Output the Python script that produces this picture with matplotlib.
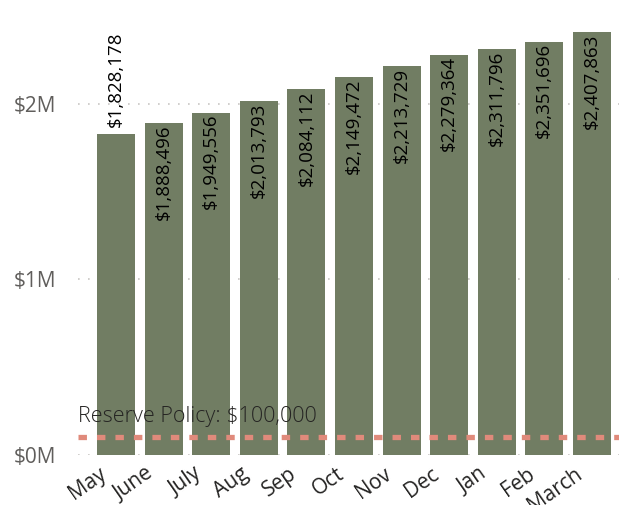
import matplotlib
matplotlib.use("Agg")
import matplotlib.pyplot as plt
from matplotlib.ticker import FuncFormatter

plt.rcParams['font.family'] = ['Open Sans', 'DejaVu Sans']

meses = ['May', 'June', 'July', 'Aug', 'Sep', 'Oct', 'Nov', 'Dec', 'Jan', 'Feb', 'March']
saldo = [1828178, 1888496, 1949556, 2013793, 2084112, 2149472, 2213729,
         2279364, 2311796, 2351696, 2407863]
reserva = 100000
reserva_txt = 'Reserve Policy: $100,000'
yticks = [0, 1000000, 2000000]

fig = plt.figure(figsize=(6.19, 5.05), dpi=100)
ax = fig.add_axes([0.126, 0.099, 0.874, 0.901])

x = list(range(len(meses)))
ax.bar(x, saldo, width=0.8, color='#717D63', zorder=2)

# etiquetas de valor: la primera fuera de la barra, el resto dentro
for i, v in enumerate(saldo):
    txt = '${:,}'.format(v)
    if i == 0:
        ax.annotate(txt, (i, v), xytext=(0, 5), textcoords='offset points',
                    rotation=90, ha='center', va='bottom', fontsize=13.5, color='black')
    else:
        ax.annotate(txt, (i, v), xytext=(0, -1), textcoords='offset points',
                    rotation=90, ha='center', va='top', fontsize=13.5, color='black')

ax.axhline(reserva, color='#E08A7B', lw=3.8, dashes=(1.6, 1.9),
           dash_capstyle='butt', zorder=3)
ax.text(-0.8, reserva + 60000, reserva_txt, fontsize=15.5, color='#252423',
        ha='left', va='bottom', fontweight='light', zorder=4)

ax.set_xlim(-0.8, 10.57)
ax.set_ylim(0, 2590000)
ax.set_yticks(yticks)
ax.yaxis.set_major_formatter(FuncFormatter(lambda v, p: '${:.0f}M'.format(v / 1e6)))
# las etiquetas del eje x quedan algo a la izquierda del centro de cada barra
ax.set_xticks([i - 0.38 for i in x])
ax.set_xticklabels(meses, rotation=35, ha='right', rotation_mode='anchor')

ax.grid(axis='y', color='#C8C6C4', linestyle=(0, (1, 5)), lw=1.2, zorder=1)
for s in ax.spines.values():
    s.set_visible(False)
ax.tick_params(axis='both', length=0)
ax.tick_params(axis='y', labelsize=15, labelcolor='#605E5C', pad=16)
ax.tick_params(axis='x', labelsize=15, labelcolor='#252423', pad=6)

plt.savefig('out.png', dpi=100)
